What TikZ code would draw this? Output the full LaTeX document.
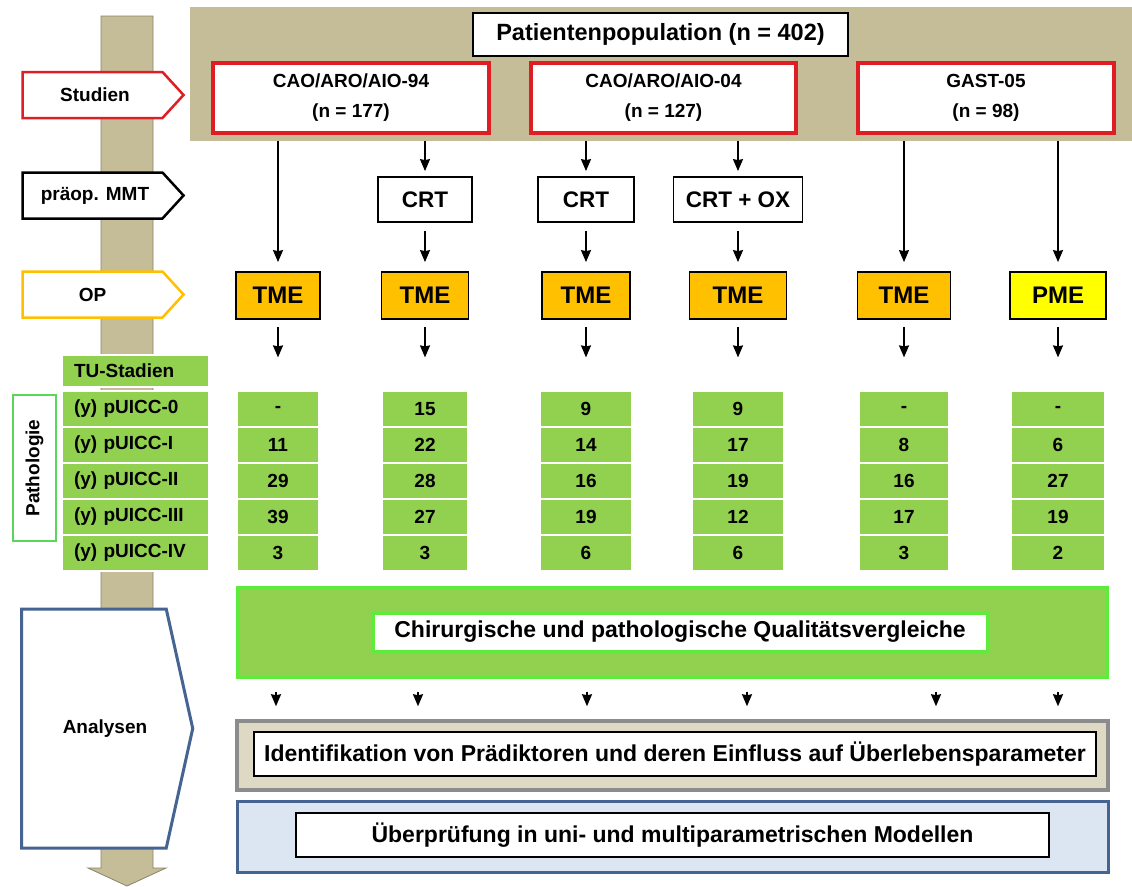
\documentclass[tikz,border=0pt]{standalone}
\usepackage{fontspec}
\setmainfont{Liberation Sans}
\usetikzlibrary{positioning,arrows.meta,shapes.symbols}
\definecolor{tanbg}{RGB}{196,189,151}
\definecolor{studyred}{RGB}{222,30,36}
\definecolor{opgold}{RGB}{255,192,0}
\definecolor{pmeyellow}{RGB}{255,255,0}
\definecolor{tugreen}{RGB}{146,208,80}
\definecolor{brightgreen}{RGB}{95,235,60}
\definecolor{patgreen}{RGB}{90,215,90}
\definecolor{lighttan}{RGB}{221,217,196}
\definecolor{midgray}{RGB}{140,140,140}
\definecolor{paleblue}{RGB}{220,230,242}
\definecolor{slateblue}{RGB}{70,100,145}
\newcommand{\bfsz}[1]{\fontsize{#1}{#1}\selectfont\bfseries}

\begin{document}
\begin{tikzpicture}[x=1pt,y=-1pt,
  every node/.style={font=\bfsz{19},inner sep=0pt},
  arr/.style={-{Stealth[length=12pt,width=10pt,inset=1pt]},line width=1.6pt},
  stagetag/.style={signal,signal to=east,signal pointer angle=95,fill=white,line width=2.5pt,minimum width=161pt,minimum height=46pt},
  studybox/.style={draw=studyred,line width=4pt,fill=white,minimum height=70pt,align=center,font=\fontsize{19}{30}\selectfont\bfseries},
  therapy/.style={draw,line width=1.8pt,fill=white,minimum height=45pt,font=\bfsz{22.5}},
  opbox/.style={draw,line width=1.8pt,fill=opgold,minimum height=47pt,font=\bfsz{24}},
  cell/.style={fill=tugreen,draw=white,line width=1.2pt,minimum height=36pt},
  innerbox/.style={draw,line width=2pt,fill=white,minimum height=44pt,font=\bfsz{23}}]
\useasboundingbox (0,0) rectangle (1132,886);
\fill[white] (0,0) rectangle (1132,886);
\filldraw[fill=tanbg,draw=tanbg!70!black,line width=0.8pt] (101,16) -- (153,16) -- (153,868) -- (166,868) -- (127,886) -- (88,868) -- (101,868) -- cycle;

\node[fill=tanbg,minimum width=942pt,minimum height=134pt,anchor=north west] (band) at (190,7) {};
\node[draw,line width=2.5pt,fill=white,minimum width=375pt,minimum height=43pt,font=\bfsz{23.5}] (pop) at (660.5,34.5) {Patientenpopulation (n = 402)};
\node[studybox,minimum width=276pt] (s94) at (351,98) {CAO/ARO/AIO-94\\(n = 177)};
\node[studybox,minimum width=265pt] (s04) at (663.5,98) {CAO/ARO/AIO-04\\(n = 127)};
\node[studybox,minimum width=256pt] (g05) at (986,98) {GAST-05\\(n = 98)};

\node[stagetag,draw=studyred] (tstud) at (92.5,95) {\hspace*{5pt}Studien};
\node[stagetag,draw=black] (tmmt) at (92.5,195.5) {\hspace*{5pt}präop. MMT};
\node[stagetag,draw=opgold] (top) at (92.5,294.5) {OP};

\node[therapy,minimum width=94pt] (crt2) at (425,199.5) {CRT};
\node[therapy,minimum width=96pt] (crt3) at (586,199.5) {CRT};
\node[therapy,minimum width=129pt] (crt4) at (738,199.5) {CRT + OX};

\node[opbox,minimum width=84pt] (tme1) at (278,295.5) {TME};
\node[opbox,minimum width=87pt] (tme2) at (425,295.5) {TME};
\node[opbox,minimum width=88pt] (tme3) at (586,295.5) {TME};
\node[opbox,minimum width=97pt] (tme4) at (738,295.5) {TME};
\node[opbox,minimum width=93pt] (tme5) at (904,295.5) {TME};
\node[opbox,fill=pmeyellow,minimum width=96pt] (tme6) at (1058,295.5) {PME};

\draw[arr,shorten >=9pt] (tme1 |- band.south) -- (tme1);
\draw[arr,shorten >=9pt] (tme5 |- band.south) -- (tme5);
\draw[arr,shorten >=9pt] (tme6 |- band.south) -- (tme6);
\foreach \c in {2,3,4} {
  \draw[arr,shorten >=5pt] (crt\c |- band.south) -- (crt\c);
  \draw[arr,shorten <=8pt,shorten >=9pt] (crt\c) -- (tme\c);
}

\node[cell,minimum width=147pt,minimum height=32pt,text width=123pt,align=left] (tuhead) at (135.5,371) {TU-Stadien};
\foreach \lab [count=\r] in {0,I,II,III,IV}
  \node[cell,minimum width=147pt,text width=123pt,align=left] (st\r) at (135.5,{373+36*\r}) {(y) pUICC-\lab};
\foreach \x/\w/\vals [count=\c] in {278/81/{-,11,29,39,3},425/86/{15,22,28,27,3},586/92/{9,14,16,19,6},738/92/{9,17,19,12,6},904/90/{-,8,16,17,3},1058/93/{-,6,27,19,2}}
  \foreach \v [count=\r] in \vals
    \node[cell,minimum width=\w pt] (v\c-\r) at (\x,{373+36*\r}) {\v};
\foreach \c in {1,...,6}
  \draw[arr,shorten <=7pt,shorten >=33pt] (tme\c) -- (v\c-1);

\node[draw=patgreen,line width=2.5pt,fill=white,rotate=90,minimum width=146pt,minimum height=43pt] (patho) at (34.5,468) {Pathologie};

\node[stagetag,draw=slateblue,line width=3pt,signal pointer angle=155,minimum width=171pt,minimum height=239pt] (tana) at (94,728.5) {\hspace*{22pt}Analysen};

\node[fill=tugreen,draw=brightgreen,line width=3pt,minimum width=870pt,minimum height=90pt] (qualbg) at (672.5,632) {};
\node[innerbox,draw=brightgreen,line width=3pt,minimum width=614pt,minimum height=38pt] (qual) at (680,632) {Chirurgische und pathologische Qualitätsvergleiche};
\node[fill=lighttan,draw=midgray,line width=3.5pt,minimum width=871pt,minimum height=69pt] (identbg) at (672.5,755.5) {};
\node[innerbox,minimum width=842pt] (ident) at (675,754) {Identifikation von Prädiktoren und deren Einfluss auf Überlebensparameter};
\node[fill=paleblue,draw=slateblue,line width=3pt,minimum width=871pt,minimum height=71pt] (checkbg) at (672.5,836.5) {};
\node[innerbox,minimum width=753pt] (check) at (672.5,835) {Überprüfung in uni- und multiparametrischen Modellen};

\foreach \x in {276,418,587,747,936,1058}
  \draw[arr,shorten <=13pt,shorten >=13pt] (\x,0 |- qualbg.south) -- (\x,0 |- identbg.north);
\end{tikzpicture}
\end{document}
